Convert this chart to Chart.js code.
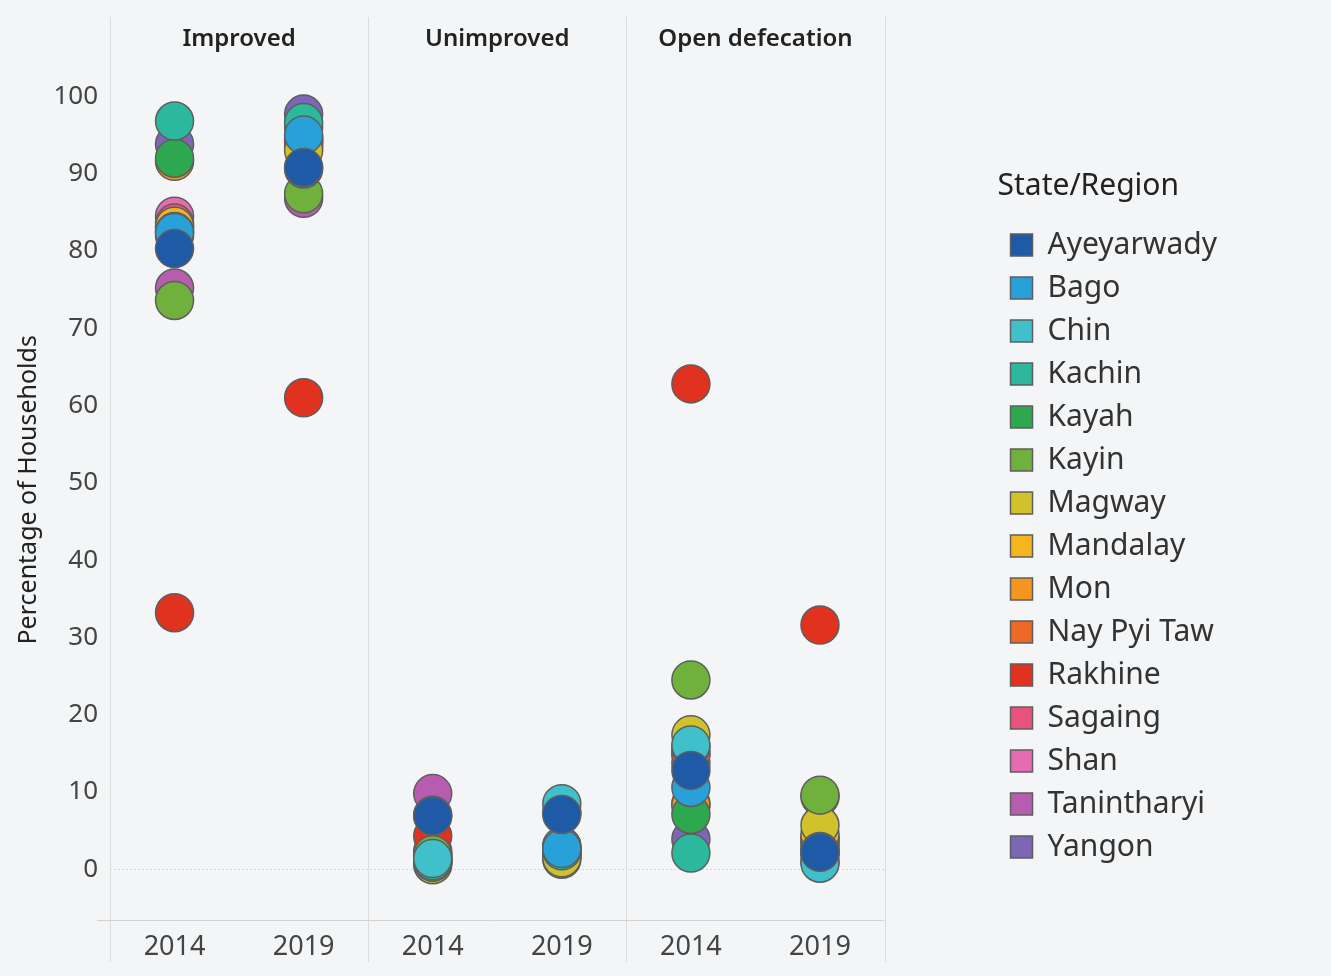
<!DOCTYPE html>
<html>
<head>
<meta charset="utf-8">
<script src="https://cdn.jsdelivr.net/npm/chart.js@4.4.1/dist/chart.umd.min.js"></script>
<style>
    html, body { margin: 0; padding: 0; background: #f4f5f6; }
    #wrap { width: 1331px; height: 976px; position: relative; }
</style>
</head>
<body>
<div id="wrap"><canvas id="chartContainer"></canvas></div>
<script>
// Panels and x categories
const panels = ['Improved', 'Unimproved', 'Open defecation'];
const years = ['2014', '2019', '2014', '2019', '2014', '2019'];
const yTicks = [0, 10, 20, 30, 40, 50, 60, 70, 80, 90, 100];

const regions = ['Ayeyarwady', 'Bago', 'Chin', 'Kachin', 'Kayah', 'Kayin', 'Magway', 'Mandalay',
    'Mon', 'Nay Pyi Taw', 'Rakhine', 'Sagaing', 'Shan', 'Tanintharyi', 'Yangon'];
const regionColors = ['#1f5aa6', '#28a0d8', '#3fc0cb', '#2bb89c', '#2ea84f', '#70b03c', '#d0c22b', '#f4b51f',
    '#f4951f', '#ec6a25', '#e0321f', '#e8527c', '#e66cb1', '#b65db0', '#7d66b5'];

// Values per region: improved 2014, 2019 / unimproved 2014, 2019 / open defecation 2014, 2019
const ayeyarwady = [80.3, 90.8, 6.9, 7.1, 12.8, 2.2];
const bago = [82.4, 95.0, 7.0, 2.7, 10.6, 2.3];
const chin = [82.5, 90.6, 1.4, 8.5, 16.1, 0.8];
const kachin = [96.8, 96.6, 1.1, 2.4, 2.1, 1.9];
const kayah = [92.0, 96.0, 0.9, 2.5, 7.1, 2.2];
const kayin = [73.6, 87.4, 1.9, 3.0, 24.5, 9.6];
const magway = [82.0, 93.0, 0.6, 1.5, 17.4, 5.7];
const mandalay = [83.2, 93.5, 1.0, 1.8, 15.8, 4.5];
const mon = [91.6, 94.0, 1.0, 2.0, 8.3, 4.0];
const nayPyiTaw = [83.0, 94.5, 1.2, 2.2, 8.5, 3.3];
const rakhine = [33.2, 61.0, 4.3, 7.4, 62.8, 31.6];
const sagaing = [83.6, 94.2, 1.5, 2.0, 14.9, 3.8];
const shan = [84.5, 94.6, 1.8, 2.4, 13.7, 3.0];
const tanintharyi = [75.2, 86.8, 9.8, 3.0, 15.0, 9.4];
const yangon = [93.8, 97.7, 2.3, 1.3, 3.9, 1.0];

const regionValues = [ayeyarwady, bago, chin, kachin, kayah, kayin, magway, mandalay,
    mon, nayPyiTaw, rakhine, sagaing, shan, tanintharyi, yangon];

const fontFamily = '"Noto Sans", "Open Sans", sans-serif';
let chart;

// Background, panel dividers, panel headers and bottom axis line
const panelPlugin = {
    id: 'panels',
    beforeDraw(c) {
        const ctx = c.ctx;
        ctx.save();
        ctx.fillStyle = '#f4f5f6';
        ctx.fillRect(0, 0, c.width, c.height);
        ctx.restore();
    },
    beforeDatasetsDraw(c) {
        const ctx = c.ctx;
        const area = c.chartArea;
        const w = (area.right - area.left) / panels.length;
        ctx.save();
        ctx.strokeStyle = '#dcdcdc';
        ctx.lineWidth = 1;
        for (let i = 0; i <= panels.length; i++) {
            const x = Math.round(area.left + i * w) + 0.5;
            ctx.beginPath();
            ctx.moveTo(x, 17);
            ctx.lineTo(x, 962);
            ctx.stroke();
        }
        ctx.strokeStyle = '#d2d2d2';
        ctx.beginPath();
        ctx.moveTo(97, Math.round(area.bottom) + 0.5);
        ctx.lineTo(area.right, Math.round(area.bottom) + 0.5);
        ctx.stroke();

        ctx.fillStyle = '#222';
        ctx.font = '600 24px ' + fontFamily;
        ctx.textAlign = 'center';
        ctx.textBaseline = 'middle';
        panels.forEach((p, i) => {
            ctx.fillText(p, area.left + (i + 0.5) * w, 39);
        });
        ctx.restore();
    }
};

function renderChart() {
    const ctx = document.getElementById('chartContainer').getContext('2d');
    chart = new Chart(ctx, {
        type: 'line',
        data: {
            labels: years,
            datasets: regions.map((name, i) => ({
                label: name,
                data: regionValues[i],
                backgroundColor: regionColors[i],
                borderColor: '#5e5e5e',
                borderWidth: 1.5,
                pointRadius: 19,
                pointHoverRadius: 19,
                showLine: false
            }))
        },
        options: {
            responsive: true,
            maintainAspectRatio: false,
            animation: false,
            layout: { padding: { left: 10, top: 60, right: 104, bottom: 0 } },
            plugins: {
                tooltip: { enabled: false },
                legend: {
                    position: 'right',
                    align: 'start',
                    maxWidth: 300,
                    title: {
                        display: true,
                        text: 'State/Region',
                        position: 'start',
                        color: '#222',
                        font: { family: fontFamily, size: 30 },
                        padding: { top: 111, bottom: 10 }
                    },
                    labels: {
                        boxWidth: 22,
                        boxHeight: 22,
                        padding: 13,
                        color: '#333',
                        font: { family: fontFamily, size: 30 }
                    }
                }
            },
            scales: {
                x: {
                    offset: true,
                    grid: { display: false, drawTicks: false },
                    border: { display: false },
                    ticks: {
                        padding: 12,
                        color: '#444',
                        font: { family: fontFamily, size: 27 }
                    }
                },
                y: {
                    min: -6.5,
                    max: 104.7,
                    afterBuildTicks: axis => { axis.ticks = yTicks.map(v => ({ value: v })); },
                    afterFit: axis => { axis.width = 100; },
                    grid: {
                        drawTicks: false,
                        color: c => c.tick && c.tick.value === 0 ? '#d6d6d6' : 'rgba(0,0,0,0)'
                    },
                    border: { display: false, dash: [2, 2] },
                    ticks: {
                        padding: 12,
                        color: '#444',
                        font: { family: fontFamily, size: 26 }
                    },
                    title: {
                        display: true,
                        text: 'Percentage of Households',
                        color: '#222',
                        font: { family: fontFamily, size: 25 }
                    }
                },
                gap: {
                    position: 'right',
                    display: true,
                    grid: { display: false },
                    border: { display: false },
                    ticks: { display: false },
                    afterFit: axis => { axis.width = 113; }
                }
            }
        },
        plugins: [panelPlugin]
    });
}

renderChart();
</script>
</body>
</html>
